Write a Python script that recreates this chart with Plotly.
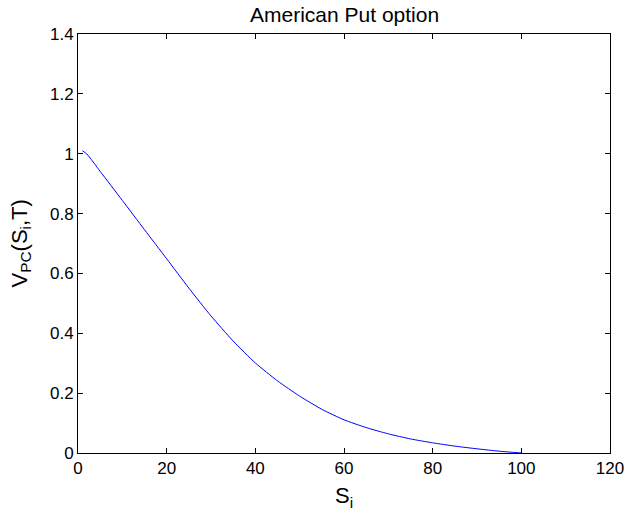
import plotly.graph_objects as go

# Data
s_values = [1, 2, 5, 10, 15, 20, 25, 30, 35, 40, 45, 50, 55, 60, 65, 70, 75, 80, 85, 90, 95, 100]
v_values = [1.010, 0.999, 0.941, 0.844, 0.746, 0.649, 0.551, 0.458, 0.374, 0.301, 0.241, 0.190,
            0.146, 0.111, 0.085, 0.064, 0.047, 0.034, 0.023, 0.014, 0.006, 0.0]
x_ticks = [0, 20, 40, 60, 80, 100, 120]
y_ticks = [0, 0.2, 0.4, 0.6, 0.8, 1.0, 1.2, 1.4]
y_tick_labels = ["0", "0.2", "0.4", "0.6", "0.8", "1", "1.2", "1.4"]

FONT = "Liberation Sans, Arial, Helvetica, sans-serif"

fig = go.Figure()
fig.add_trace(go.Scatter(x=s_values, y=v_values, mode="lines",
                         line=dict(color="#0000ff", width=1, shape="spline", smoothing=0.6),
                         showlegend=False, hoverinfo="skip"))

axis_common = dict(showgrid=False, zeroline=False, showline=True, linecolor="black",
                   linewidth=1, mirror="ticks", ticks="inside", ticklen=5,
                   tickcolor="black", tickwidth=1, automargin=False,
                   ticklabeloverflow="allow",
                   tickfont=dict(family=FONT, size=17, color="black"))

fig.update_layout(
    width=626, height=514,
    margin=dict(l=78, r=16, t=34, b=61),
    paper_bgcolor="white", plot_bgcolor="white",
    xaxis=dict(range=[0, 120], tickvals=x_ticks, **axis_common),
    yaxis=dict(range=[0, 1.4], tickvals=y_ticks, ticktext=y_tick_labels, **axis_common),
    annotations=[
        dict(text="American Put option", x=0.5, y=1, xref="paper", yref="paper",
             xanchor="center", yanchor="bottom", yshift=6, showarrow=False,
             font=dict(family=FONT, size=21, color="black")),
        dict(text="S<sub>i</sub>", x=0.5, y=0, xref="paper", yref="paper",
             xanchor="center", yanchor="middle", yshift=-44, showarrow=False,
             font=dict(family=FONT, size=22, color="black")),
        dict(text="V<sub>PC</sub>(S<sub>i</sub>,T)", x=0, y=0.5, xref="paper", yref="paper",
             xanchor="center", yanchor="middle", xshift=-58, textangle=-90, showarrow=False,
             font=dict(family=FONT, size=22, color="black")),
    ],
)

# Remove the default 8px page margin so the figure fills the window exactly.
fig.write_html("out.html", config={"displayModeBar": False},
               post_script="document.body.style.margin='0';document.body.style.overflow='hidden';")
